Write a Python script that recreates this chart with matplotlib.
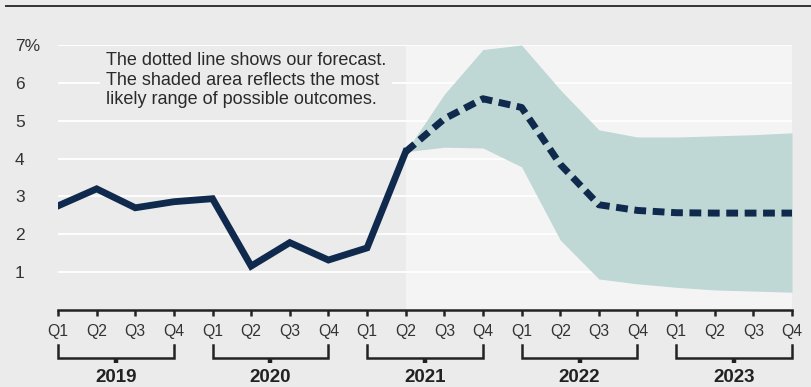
import matplotlib
matplotlib.use("Agg")
import matplotlib.pyplot as plt
from matplotlib.lines import Line2D

plt.rcParams['font.family'] = ['Liberation Sans', 'DejaVu Sans']

# quarterly data, Q1 2019 .. Q4 2023
quarters = ['Q1', 'Q2', 'Q3', 'Q4'] * 5
years = ['2019', '2020', '2021', '2022', '2023']
actual = [2.75, 3.2, 2.7, 2.86, 2.94, 1.16, 1.78, 1.32, 1.64, 4.18]
forecast = [4.18, 5.05, 5.58, 5.35, 3.85, 2.78, 2.63, 2.57, 2.56, 2.56, 2.56]
upper = [4.18, 5.7, 6.88, 7.0, 5.82, 4.76, 4.57, 4.57, 4.6, 4.63, 4.68]
lower = [4.18, 4.3, 4.28, 3.78, 1.85, 0.82, 0.69, 0.6, 0.53, 0.5, 0.47]
note = ("The dotted line shows our forecast.\n"
        "The shaded area reflects the most\n"
        "likely range of possible outcomes.")

bg = '#ebebeb'
navy = '#0f2a4c'
band = '#bfd8d5'
ink = '#222222'

W, H = 811, 387
fig = plt.figure(figsize=(W / 100, H / 100), dpi=100, facecolor=bg)
ax = fig.add_axes([58 / W, 1 - 310 / H, (792 - 58) / W, (310 - 45) / H])
ax.set_facecolor(bg)

x_act = list(range(len(actual)))
x_fc = list(range(len(actual) - 1, len(actual) - 1 + len(forecast)))

ax.axvspan(x_fc[0], x_fc[-1], color='#f4f4f4', lw=0, zorder=0)
for v in range(1, 8):
    ax.axhline(v, color='white', lw=1.3, zorder=1)

ax.fill_between(x_fc, lower, upper, color=band, lw=0, zorder=2)
ax.plot(x_act, actual, color=navy, lw=4.9, solid_joinstyle='miter', zorder=3)
ax.plot(x_fc, forecast, color=navy, lw=5, dashes=(1.7, 0.95),
        dash_capstyle='butt', zorder=3)

ax.set_xlim(0, 19)
ax.set_ylim(0, 7)

for s in ['top', 'left', 'right']:
    ax.spines[s].set_visible(False)
ax.spines['bottom'].set_color(ink)
ax.spines['bottom'].set_linewidth(1.8)

ax.set_xticks(range(len(quarters)))
ax.set_xticklabels(quarters, fontsize=11.3, color='#333333')
ax.tick_params(axis='x', direction='out', length=4, width=1.8, color=ink, pad=6)

ax.set_yticks(range(1, 8))
ax.set_yticklabels([str(v) for v in range(1, 7)] + ['7%'], fontsize=12.5,
                   color='#333333', ha='left')
ax.tick_params(axis='y', length=0, pad=31)

# year brackets
trans = ax.get_xaxis_transform()
ah = (310 - 45)
y_top = -(345 - 310) / ah
y_bot = -(358 - 310) / ah
y_nub = -(363 - 310) / ah
y_lab = -(378 - 310) / ah
for i, yr in enumerate(years):
    x0, x1 = i * 4, i * 4 + 3
    ax.plot([x0, x0, x1, x1], [y_top, y_bot, y_bot, y_top], color=ink, lw=1.8,
            transform=trans, clip_on=False, solid_joinstyle='miter')
    xm = (x0 + x1) / 2
    ax.plot([xm, xm], [y_bot, y_nub], color=ink, lw=3.2, transform=trans,
            clip_on=False, solid_capstyle='butt')
    ax.text(xm, y_lab, yr, transform=trans, ha='center', va='center',
            fontsize=13.5, fontweight='bold', color=ink)

ax.text(106 / W, 1 - 52 / H, note, transform=fig.transFigure, ha='left',
        va='top', fontsize=13, color='#2a2a2a', linespacing=1.2, zorder=4,
        bbox=dict(facecolor=bg, edgecolor='none', pad=4))

fig.add_artist(Line2D([6 / W, 1], [1 - 6 / H, 1 - 6 / H], color='#333333', lw=1.4))

fig.savefig('out.png', dpi=100, facecolor=bg)
